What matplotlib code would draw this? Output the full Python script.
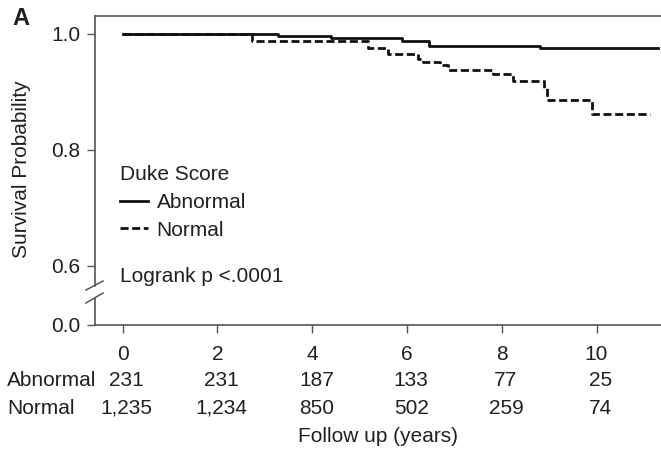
import matplotlib
matplotlib.use("Agg")
import matplotlib.pyplot as plt
from matplotlib.lines import Line2D
from matplotlib.transforms import blended_transform_factory, offset_copy

plt.rcParams["font.family"] = ["Liberation Sans", "DejaVu Sans"]
plt.rcParams["font.size"] = 15

ink = "#231f20"
axis_col = "#555555"

# Kaplan-Meier step points (years, survival)
abn_time = [0, 3.28, 4.39, 5.89, 6.47, 8.80, 11.29]
abn_surv = [1.0, 0.997, 0.9926, 0.9875, 0.9793, 0.9753, 0.9753]
nor_time = [0, 2.73, 5.18, 5.60, 6.24, 6.34, 6.69, 6.87, 7.81, 8.24, 8.89, 8.96, 9.90, 11.12]
nor_surv = [1.0, 0.988, 0.975, 0.9646, 0.956, 0.952, 0.9465, 0.9378, 0.931, 0.918,
            0.9067, 0.886, 0.8613, 0.8613]

years = [0, 2, 4, 6, 8, 10]
risk_abnormal = ["231", "231", "187", "133", "77", "25"]
risk_normal = ["1,235", "1,234", "850", "502", "259", "74"]

W, H = 661, 449
fig = plt.figure(figsize=(W / 100, H / 100), dpi=100)


def fx(px):
    return px / W


def fy(py):
    return 1 - py / H


# broken y axis: upper panel for the curves, thin lower panel for 0.0
ax = fig.add_axes([fx(95), fy(286), 1 - fx(95), fy(16) - fy(286)])
axb = fig.add_axes([fx(95), fy(324.7), 1 - fx(95), fy(298) - fy(324.7)], sharex=ax)

ax.plot(abn_time, abn_surv, drawstyle="steps-post", color="#111111", lw=2.0,
        label="Abnormal")
ax.plot(nor_time, nor_surv, drawstyle="steps-post", color="#111111", lw=2.0,
        linestyle=(0, (2.9, 1.3)), label="Normal")

ax.set_xlim(-0.584, 11.36)
ax.set_ylim(0.565, 1.031)
axb.set_ylim(0, 0.0461)

for a in (ax, axb):
    a.spines["right"].set_visible(False)
    for s in a.spines.values():
        s.set_color(axis_col)
        s.set_linewidth(1.2)
    a.tick_params(direction="out", length=5.5, width=1, color=axis_col,
                  labelcolor=ink, pad=5)
ax.spines["bottom"].set_visible(False)
axb.spines["top"].set_visible(False)

ax.set_yticks([0.6, 0.8, 1.0])
ax.set_yticklabels(["0.6", "0.8", "1.0"])
ax.tick_params(axis="x", bottom=False, labelbottom=False)
axb.set_yticks([0.0])
axb.set_yticklabels(["0.0"])
axb.set_xticks(years)
axb.set_xticklabels([str(y) for y in years])
axb.tick_params(axis="x", pad=9)

# break marks on the y axis
for (x0, y0, x1, y1) in [(86, 290, 103, 281), (86, 303, 103, 293)]:
    fig.add_artist(Line2D([fx(x0), fx(x1)], [fy(y0), fy(y1)], color=axis_col,
                          lw=1.1, transform=fig.transFigure))

leg = ax.legend(title="Duke Score", loc="upper left", bbox_to_anchor=(0.038, 0.461),
                frameon=False, borderpad=0.17, borderaxespad=0, handlelength=1.35,
                handletextpad=0.4, labelspacing=0.42, fontsize=15, title_fontsize=15)
leg._legend_box.align = "left"
for t in leg.get_texts():
    t.set_color(ink)
leg.get_title().set_color(ink)

ax.text(0.044, 0.034, "Logrank p <.0001", transform=ax.transAxes, ha="left",
        va="center", color=ink)

fig.text(fx(22), fy(169), "Survival Probability", rotation=90, ha="center",
         va="center", color=ink)
fig.text(fx(21), fy(18.5), "A", ha="center", va="center", fontsize=17,
         fontweight="bold", color=ink)

# number at risk table
trans = offset_copy(blended_transform_factory(axb.transData, fig.transFigure),
                    fig=fig, x=3, y=0, units="points")
for row_label, counts, py in [("Abnormal", risk_abnormal, 380),
                              ("Normal", risk_normal, 408)]:
    fig.text(fx(7), fy(py), row_label, ha="left", va="center", color=ink)
    for yr, n in zip(years, counts):
        axb.text(yr, fy(py), n, transform=trans, ha="center", va="center", color=ink)

fig.text((fx(95) + 1) / 2, fy(436.7), "Follow up (years)", ha="center", va="center",
         color=ink)

fig.savefig("out.png", dpi=100)
